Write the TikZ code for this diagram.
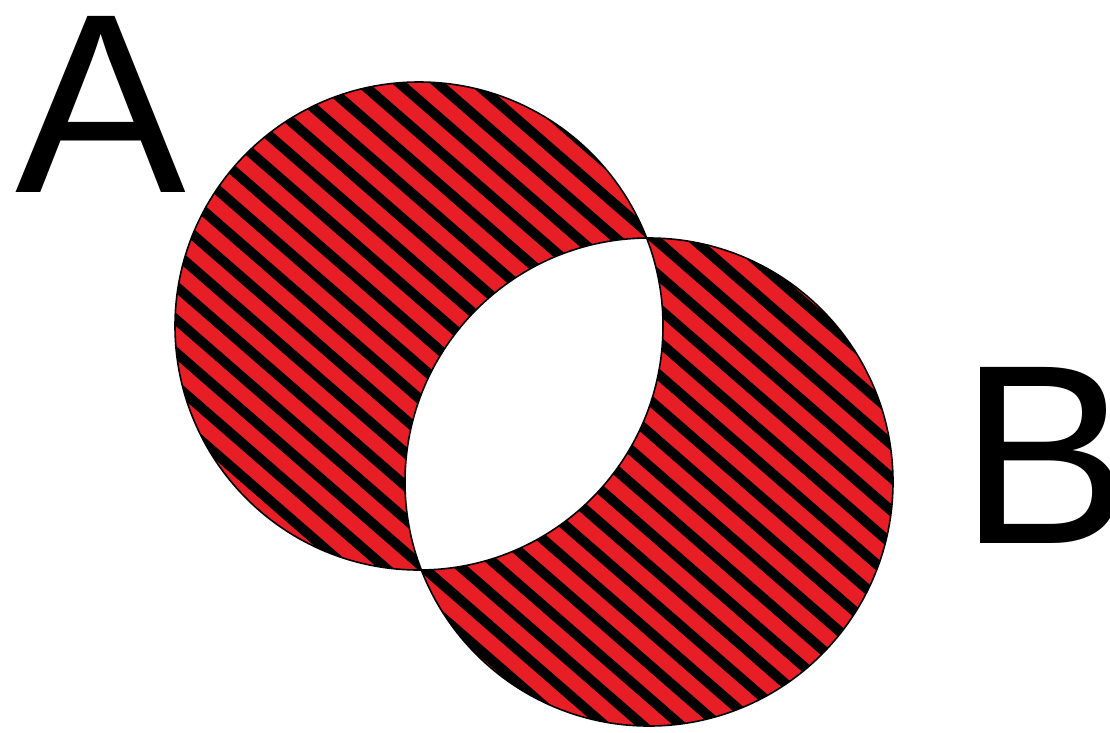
\documentclass[tikz,border=0pt]{standalone}
\usepackage{fontspec}
\setmainfont{Liberation Sans}
\definecolor{vennred}{RGB}{232,30,38}
\tikzset{
  setcircle/.style={line width=1.6pt, draw=black},
  stripe/.style={line width=10pt, black},
  biglabel/.style={inner sep=0pt, anchor=base west, font=\fontsize{256}{256}\selectfont}
}
\begin{document}
\begin{tikzpicture}[x=1pt,y=-1pt]
\useasboundingbox (0,0) rectangle (1110,732);
\fill[white] (0,0) rectangle (1110,732);
\coordinate (ca) at (419,326);
\coordinate (cb) at (649,482);
\coordinate (s0) at (472,610);
% red fills
\fill[vennred] (ca) circle (244);
\fill[vennred] (cb) circle (244);
% stripes in A
\begin{scope}
  \clip (ca) circle (244);
  \begin{scope}[shift={(s0)}, rotate=-41]
    \foreach \k in {-40,...,40} {\draw[stripe] (-1200,\k*25) -- (1200,\k*25);}
  \end{scope}
\end{scope}
% stripes in B
\begin{scope}
  \clip (cb) circle (244);
  \begin{scope}[shift={(s0)}, rotate=-41]
    \foreach \k in {-40,...,40} {\draw[stripe] (-1200,\k*25) -- (1200,\k*25);}
  \end{scope}
\end{scope}
% white lens
\begin{scope}
  \clip (ca) circle (244);
  \fill[white] (cb) circle (244);
\end{scope}
% outlines
\draw[setcircle] (ca) circle (244);
\draw[setcircle] (cb) circle (244);
% labels
\node[biglabel] (la) at (15,192) {A};
\node[biglabel] (lb) at (959,543) {B};
\end{tikzpicture}
\end{document}
